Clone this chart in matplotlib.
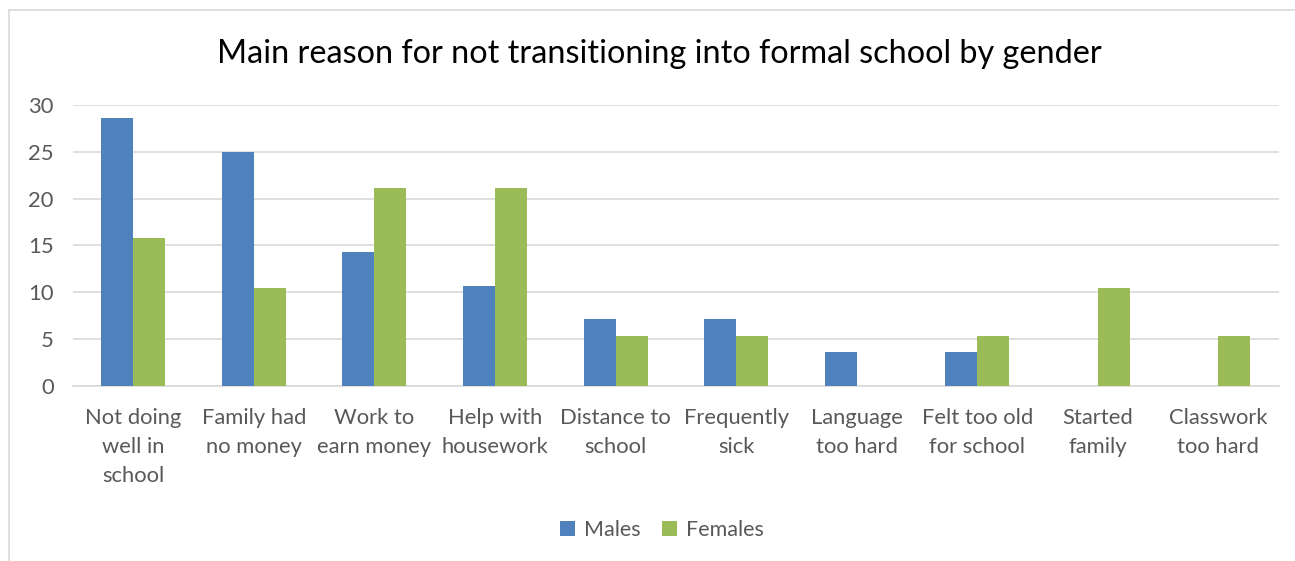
import matplotlib.pyplot as plt
import numpy as np
from matplotlib.patches import Rectangle

categories = ['Not doing\nwell in\nschool', 'Family had\nno money', 'Work to\nearn money',
              'Help with\nhousework', 'Distance to\nschool', 'Frequently\nsick',
              'Language\ntoo hard', 'Felt too old\nfor school', 'Started\nfamily',
              'Classwork\ntoo hard']
males = [28.6, 25.0, 14.3, 10.7, 7.1, 7.1, 3.6, 3.6, 0, 0]
females = [15.8, 10.5, 21.1, 21.1, 5.3, 5.3, 0, 5.3, 10.5, 5.3]

plt.rcParams['font.family'] = ['Lato', 'DejaVu Sans']
grey = '#595959'

fig = plt.figure(figsize=(12.95, 5.61), dpi=100)
ax = fig.add_axes([0.0564, 0.312, 0.931, 0.501])

# chart border
fig.patches.append(Rectangle((9 / 1295, -0.05), 1.1, 1 - 10 / 561 + 0.05,
                             transform=fig.transFigure, fill=False,
                             edgecolor='#d9d9d9', linewidth=1.2))

x = np.arange(len(categories))
w = 0.265
ax.bar(x - w / 2, males, w, color='#4f81bd', label='Males', zorder=3)
ax.bar(x + w / 2, females, w, color='#9bbb59', label='Females', zorder=3)

ax.set_xlim(-0.5, len(categories) - 0.5)
ax.set_ylim(0, 30)
ax.set_yticks(range(0, 31, 5))
ax.yaxis.grid(True, color='#d9d9d9', linewidth=1.2, zorder=0)
for s in ['top', 'right', 'left']:
    ax.spines[s].set_visible(False)
ax.spines['bottom'].set_color('#d9d9d9')
ax.spines['bottom'].set_linewidth(1.2)
ax.tick_params(length=0, labelcolor=grey, labelsize=15.8)
ax.tick_params(axis='y', pad=14)
ax.tick_params(axis='x', pad=16)
ax.set_xticks(x)
ax.set_xticklabels(categories, linespacing=1.55, va='top')

fig.text(0.509, 0.903, 'Main reason for not transitioning into formal school by gender',
         ha='center', va='center', fontsize=23.3, color='black')

fig.legend(loc='center', bbox_to_anchor=(0.511, 0.055), ncol=2, frameon=False,
           fontsize=15.5, labelcolor=grey, handlelength=0.7, handleheight=0.7,
           handletextpad=0.4, columnspacing=1.0)

fig.savefig('out.png', dpi=100)
